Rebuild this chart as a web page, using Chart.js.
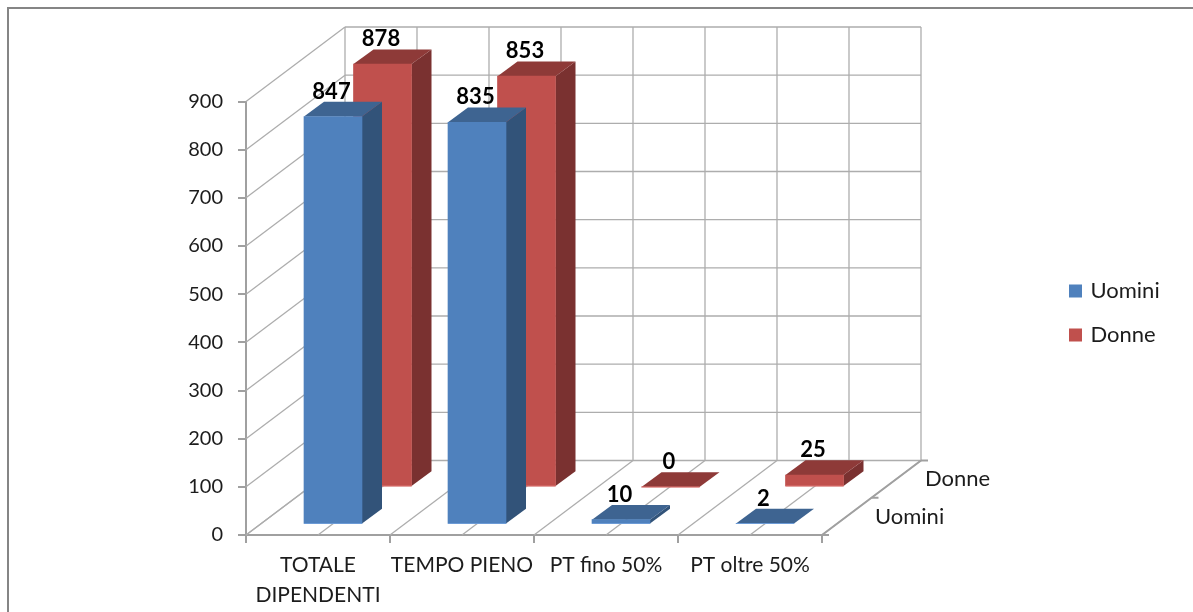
<!DOCTYPE html>
<html>
<head>
<meta charset="utf-8">
<title>Dipendenti</title>
<script src="https://cdn.jsdelivr.net/npm/chart.js@4"></script>
<style>
  html, body { margin: 0; background: #fff; }
  canvas { display: block; }
</style>
</head>
<body>
<canvas id="staffChart" width="1193" height="612"></canvas>
<script>
const categories = [['TOTALE', 'DIPENDENTI'], 'TEMPO PIENO', 'PT fino 50%', 'PT oltre 50%'];
const uomini = [847, 835, 10, 2];
const donne = [878, 853, 0, 25];
const seriesNames = ['Uomini', 'Donne'];

const FONT = 'Lato, sans-serif';
const TEXT = '#1c1c1c';
const GRID = '#adadad';
const AXIS = '#a0a0a0';

// depth of the whole floor, and how far back each row of bars sits on it
const WALL = { dx: 99, dy: 74.5 };
const ROWS = [{ dx: 15, dy: 10.5 }, { dx: 64.5, dy: 48 }];
const BAR_DEPTH = { dx: 20, dy: 14.7 };
const FACES = [
  { side: '#325379', top: '#3e6491', edge: '#6c9bd6' },
  { side: '#7a3130', top: '#8e3a38', edge: '#dc7573' }
];

function line(ctx, x1, y1, x2, y2) {
  ctx.beginPath();
  ctx.moveTo(x1, y1);
  ctx.lineTo(x2, y2);
  ctx.stroke();
}

function poly(ctx, pts, color) {
  ctx.fillStyle = color;
  ctx.beginPath();
  pts.forEach((p, i) => i ? ctx.lineTo(p[0], p[1]) : ctx.moveTo(p[0], p[1]));
  ctx.closePath();
  ctx.fill();
}

const box3d = {
  id: 'box3d',
  beforeDraw(chart) {
    const ctx = chart.ctx;
    ctx.save();
    ctx.strokeStyle = '#858585';
    ctx.lineWidth = 2;
    ctx.strokeRect(8, 8, chart.width + 20, chart.height + 20);
    ctx.restore();
  },
  // walls and floor
  beforeDatasetsDraw(chart) {
    const { ctx, scales: { x, y } } = chart;
    const bottom = y.getPixelForValue(0);
    const backX = x.left + WALL.dx;
    const backR = x.right + WALL.dx;
    ctx.save();
    ctx.strokeStyle = GRID;
    ctx.lineWidth = 1.3;
    y.ticks.forEach(t => {
      const py = y.getPixelForValue(t.value);
      line(ctx, x.left, py, backX, py - WALL.dy);
      line(ctx, backX, py - WALL.dy, backR, py - WALL.dy);
    });
    const halfStep = (x.right - x.left) / (categories.length * 2);
    for (let i = 0; i <= categories.length * 2; i++) {
      const fx = x.left + i * halfStep;
      line(ctx, fx, bottom, fx + WALL.dx, bottom - WALL.dy);
      line(ctx, fx + WALL.dx, bottom - WALL.dy, fx + WALL.dx, y.top - WALL.dy);
    }
    // depth axis on the right of the floor
    ctx.strokeStyle = AXIS;
    ctx.lineWidth = 2;
    line(ctx, x.right, bottom, backR, bottom - WALL.dy);
    [0, 0.5, 1].forEach(k => {
      const tx = x.right + WALL.dx * k;
      const ty = bottom - WALL.dy * k;
      line(ctx, tx, ty, tx + 7, ty);
    });
    ctx.fillStyle = TEXT;
    ctx.font = '22px ' + FONT;
    ctx.textBaseline = 'middle';
    ctx.fillText(seriesNames[0], 875, 517);
    ctx.fillText(seriesNames[1], 925, 479);
    ctx.restore();
  },
  // each row is shifted back, side and top faces go under the front
  beforeDatasetDraw(chart, args) {
    const ctx = chart.ctx;
    const row = ROWS[args.index];
    const face = FACES[args.index];
    ctx.save();
    ctx.translate(row.dx, -row.dy);
    args.meta.data.forEach(bar => {
      const r = bar.x + bar.width / 2;
      const l = bar.x - bar.width / 2;
      const d = BAR_DEPTH;
      poly(ctx, [[r, bar.y], [r + d.dx, bar.y - d.dy], [r + d.dx, bar.base - d.dy], [r, bar.base]], face.side);
      poly(ctx, [[l, bar.y], [l + d.dx, bar.y - d.dy], [r + d.dx, bar.y - d.dy], [r, bar.y]], face.top);
    });
  },
  afterDatasetDraw(chart, args) {
    const ctx = chart.ctx;
    // thin light edge along the foot of each bar
    ctx.strokeStyle = FACES[args.index].edge;
    ctx.lineWidth = 1;
    args.meta.data.forEach(bar => {
      line(ctx, bar.x - bar.width / 2, bar.base, bar.x + bar.width / 2, bar.base);
    });
    ctx.restore();
  },
  // value labels stay above every bar
  afterDatasetsDraw(chart) {
    const ctx = chart.ctx;
    ctx.save();
    ctx.fillStyle = '#000';
    ctx.font = 'bold 22px ' + FONT;
    ctx.textAlign = 'center';
    ctx.textBaseline = 'middle';
    chart.data.datasets.forEach((ds, i) => {
      chart.getDatasetMeta(i).data.forEach((bar, j) => {
        ctx.fillText(ds.data[j], bar.x + ROWS[i].dx - 1.5, bar.y - ROWS[i].dy - 25);
      });
    });
    ctx.restore();
  },
  afterLayout(chart) {
    const legend = chart.legend;
    legend.left = 1071.5 - legend.options.labels.padding;
    legend.right = 1193;
    legend.top = 258;
    legend.bottom = 460;
  }
};

new Chart(document.getElementById('staffChart'), {
  type: 'bar',
  data: {
    labels: categories,
    datasets: [
      { label: seriesNames[0], data: uomini, backgroundColor: '#4f81bd' },
      { label: seriesNames[1], data: donne, backgroundColor: '#c0504d' }
    ]
  },
  options: {
    responsive: false,
    animation: false,
    clip: false,
    grouped: false,
    barThickness: 58,
    layout: { padding: { top: 101.5, right: 371, left: 0, bottom: 0 } },
    plugins: {
      tooltip: { enabled: false },
      legend: {
        position: 'chartArea',
        align: 'start',
        labels: {
          boxWidth: 8,
          boxHeight: 8,
          padding: 22,
          color: TEXT,
          font: { family: FONT, size: 22 },
          // small box with a wide stroke keeps the text close to the swatch
          generateLabels(chart) {
            return chart.data.datasets.map((ds, i) => ({
              text: ds.label,
              fillStyle: ds.backgroundColor,
              strokeStyle: ds.backgroundColor,
              lineWidth: 5,
              fontColor: TEXT,
              datasetIndex: i
            }));
          }
        }
      }
    },
    scales: {
      x: {
        afterFit(scale) { scale.height = 77; },
        border: { color: AXIS, width: 2 },
        grid: { drawOnChartArea: false, color: AXIS, lineWidth: 2, tickLength: 8 },
        ticks: {
          color: TEXT,
          padding: 8,
          autoSkip: false,
          maxRotation: 0,
          font: { family: FONT, size: 21, lineHeight: 1.4 }
        }
      },
      y: {
        min: 0,
        max: 900,
        afterFit(scale) { scale.width = 246; },
        border: { color: AXIS, width: 2 },
        grid: { drawOnChartArea: false, color: AXIS, lineWidth: 2, tickLength: 8 },
        ticks: {
          stepSize: 100,
          color: TEXT,
          padding: 15,
          font: { family: FONT, size: 20 }
        }
      }
    }
  },
  plugins: [box3d]
});
</script>
</body>
</html>
